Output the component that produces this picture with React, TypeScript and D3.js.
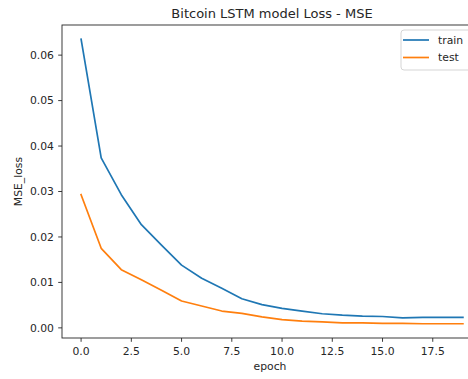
import React from "react";
import * as d3 from "d3";

const epochs = d3.range(20);
const trainLoss = [0.0635, 0.0374, 0.0293, 0.0227, 0.0182, 0.0138, 0.0109, 0.0087, 0.0064, 0.0051, 0.0043, 0.0037, 0.0031, 0.0028, 0.0026, 0.0025, 0.0022, 0.0023, 0.0023, 0.0023];
const testLoss = [0.0293, 0.0175, 0.0128, 0.0106, 0.0083, 0.0059, 0.0048, 0.0037, 0.0032, 0.0024, 0.0018, 0.0015, 0.0013, 0.0011, 0.0011, 0.001, 0.001, 0.0009, 0.0009, 0.0009];
const xTicks = [0, 2.5, 5, 7.5, 10, 12.5, 15, 17.5];
const yTicks = [0, 0.01, 0.02, 0.03, 0.04, 0.05, 0.06];
const seriesNames = ["train", "test"];
const seriesColors = ["#1f77b4", "#ff7f0e"];

const W = 468;
const H = 379;
const m = { left: 62, right: 482, top: 25, bottom: 338 };
const FONT = "'DejaVu Sans', sans-serif";
const TEXT = "#262626";

export default function App() {
  const xExt = [0, 19];
  const xPad = (xExt[1] - xExt[0]) * 0.05;
  const allY = [...trainLoss, ...testLoss];
  const yMin = d3.min(allY)!;
  const yMax = d3.max(allY)!;
  const yPad = (yMax - yMin) * 0.05;

  const x = d3.scaleLinear().domain([xExt[0] - xPad, xExt[1] + xPad]).range([m.left, m.right]);
  const y = d3.scaleLinear().domain([yMin - yPad, yMax + yPad]).range([m.bottom, m.top]);

  const line = d3
    .line<number>()
    .x((_, i) => x(epochs[i]))
    .y((d) => y(d));

  const series = [trainLoss, testLoss];
  const tickLen = 3.8;

  return (
    <svg
      width={W}
      height={H}
      style={{ position: "absolute", left: 0, top: 0, background: "#fff" }}
      fontFamily={FONT}
    >
      <rect x={0} y={0} width={W} height={H} fill="#fff" />
      <text x={(m.left + m.right) / 2} y={18} textAnchor="middle" fontSize={13} fill={TEXT}>
        Bitcoin LSTM model Loss - MSE
      </text>

      {series.map((s, i) => (
        <path key={seriesNames[i]} d={line(s)!} fill="none" stroke={seriesColors[i]} strokeWidth={1.7} strokeLinejoin="round" strokeLinecap="square" />
      ))}

      {/* spines */}
      <rect x={m.left} y={m.top} width={m.right - m.left} height={m.bottom - m.top} fill="none" stroke={TEXT} strokeWidth={0.9} />

      {/* x ticks */}
      {xTicks.map((t) => (
        <g key={"x" + t}>
          <line x1={x(t)} x2={x(t)} y1={m.bottom} y2={m.bottom + tickLen} stroke={TEXT} strokeWidth={0.9} />
          <text x={x(t)} y={m.bottom + 17} textAnchor="middle" fontSize={10.8} fill={TEXT}>
            {t.toFixed(1)}
          </text>
        </g>
      ))}

      {/* y ticks */}
      {yTicks.map((t) => (
        <g key={"y" + t}>
          <line x1={m.left - tickLen} x2={m.left} y1={y(t)} y2={y(t)} stroke={TEXT} strokeWidth={0.9} />
          <text x={m.left - 8} y={y(t)} dy="0.36em" textAnchor="end" fontSize={10.8} fill={TEXT}>
            {t.toFixed(2)}
          </text>
        </g>
      ))}

      <text x={(m.left + m.right) / 2 - 2} y={370} textAnchor="middle" fontSize={10.8} fill={TEXT}>
        epoch
      </text>
      <text
        transform={`translate(22,${(m.top + m.bottom) / 2}) rotate(-90)`}
        textAnchor="middle"
        fontSize={10.8}
        fill={TEXT}
      >
        MSE_loss
      </text>

      {/* legend */}
      <g>
        <rect x={401} y={30} width={75} height={40} rx={3} fill="#fff" fillOpacity={0.8} stroke="#d0d0d0" strokeWidth={0.9} />
        {seriesNames.map((n, i) => (
          <g key={n}>
            <line x1={403} x2={429} y1={40 + i * 17.5} y2={40 + i * 17.5} stroke={seriesColors[i]} strokeWidth={1.7} />
            <text x={438} y={40 + i * 17.5} dy="0.36em" fontSize={10.8} fill={TEXT}>
              {n}
            </text>
          </g>
        ))}
      </g>
    </svg>
  );
}
